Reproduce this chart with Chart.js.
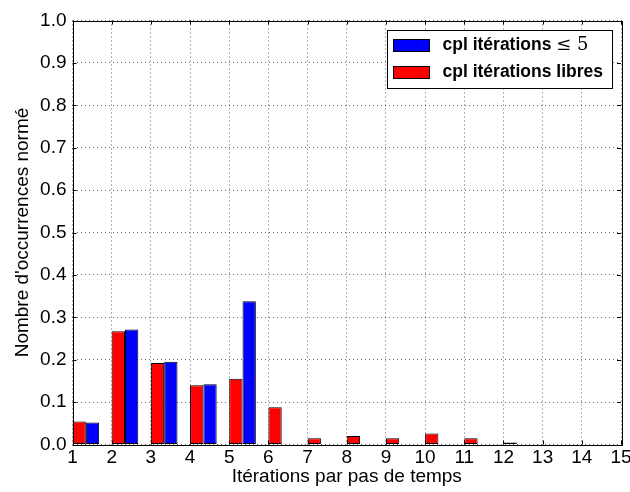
<!DOCTYPE html>
<html>
<head>
<meta charset="utf-8">
<script src="https://cdn.jsdelivr.net/npm/chart.js@4.4.1/dist/chart.umd.min.js"></script>
<style>html,body{margin:0;padding:0;background:#fff}</style>
</head>
<body>
<canvas id="myChart" width="630" height="492"></canvas>
<script>
// iterations per time step (bins start at the integer)
const iterations = [1, 2, 3, 4, 5, 6, 7, 8, 9, 10, 11, 12, 13, 14, 15];
const freeIter = [0.054, 0.267, 0.192, 0.140, 0.155, 0.088, 0.015, 0.020, 0.015, 0.026, 0.015, 0.005, 0.002, 0, 0];
const limitedIter = [0.052, 0.271, 0.195, 0.142, 0.338, 0, 0, 0, 0, 0, 0, 0, 0, 0, 0];
const seriesLabels = ["cpl itérations libres", "cpl itérations ≤ 5"];
const xTitle = "Itérations par pas de temps";
const yTitle = "Nombre d'occurrences normé";

const FONT = "'Liberation Sans', Arial, sans-serif";
const BIN = 0.68; // both bars together inside one bin

// box around the plot, inward ticks, legend inside the plot
const framePlugin = {
  id: "frame",
  afterDraw(chart) {
    const ctx = chart.ctx;
    const a = chart.chartArea;
    const xs = chart.scales.x, ys = chart.scales.y;
    ctx.save();
    ctx.strokeStyle = "#000";
    ctx.lineWidth = 1;
    ctx.beginPath();
    xs.ticks.forEach(t => {
      const px = Math.round(xs.getPixelForValue(t.value)) + 0.5;
      ctx.moveTo(px, a.bottom); ctx.lineTo(px, a.bottom - 4);
      ctx.moveTo(px, a.top); ctx.lineTo(px, a.top + 4);
    });
    ys.ticks.forEach(t => {
      const py = Math.round(ys.getPixelForValue(t.value)) + 0.5;
      ctx.moveTo(a.left, py); ctx.lineTo(a.left + 4, py);
      ctx.moveTo(a.right, py); ctx.lineTo(a.right - 4, py);
    });
    ctx.stroke();
    ctx.strokeRect(Math.round(a.left) + 0.5, Math.round(a.top) + 0.5,
      Math.round(a.right - a.left), Math.round(a.bottom - a.top));

    // legend (blue first, like the reference)
    const w = 225, h = 58;
    const lx = Math.round(a.right - 9 - w) + 0.5, ly = Math.round(a.top + 9) + 0.5;
    ctx.fillStyle = "#fff";
    ctx.fillRect(lx, ly, w, h);
    ctx.strokeRect(lx, ly, w, h);
    const items = chart.data.datasets.slice().reverse();
    items.forEach((ds, i) => {
      const ry = ly + 9 + i * 27;
      ctx.fillStyle = ds.backgroundColor;
      ctx.fillRect(lx + 6, ry, 36, 12);
      ctx.strokeRect(lx + 6, ry, 36, 12);
      ctx.fillStyle = "#000";
      ctx.textBaseline = "middle";
      ctx.textAlign = "left";
      const parts = ds.label.split("≤");
      ctx.font = "bold 17.5px " + FONT;
      let tx = lx + 55;
      ctx.fillText(parts[0], tx, ry + 6);
      if (parts.length > 1) {
        tx += ctx.measureText(parts[0]).width;
        ctx.font = "18px 'DejaVu Serif', serif";
        ctx.fillText("≤" + parts[1], tx, ry + 6);
      }
    });
    ctx.restore();
  }
};

const ctx = document.getElementById("myChart").getContext("2d");
const histChart = new Chart(ctx, {
  type: "bar",
  data: {
    datasets: [
      {
        label: seriesLabels[0],
        data: iterations.map((n, i) => ({ x: n + BIN / 2, y: freeIter[i] })),
        backgroundColor: "#ff0000",
      },
      {
        label: seriesLabels[1],
        data: iterations.map((n, i) => ({ x: n + BIN / 2, y: limitedIter[i] })),
        backgroundColor: "#0000ff",
      },
    ],
  },
  options: {
    responsive: false,
    animation: false,
    layout: { padding: { top: 20.5, right: 9, left: 0, bottom: 0 } },
    datasets: {
      bar: {
        borderColor: "#000",
        borderWidth: 1,
        borderSkipped: false,
        categoryPercentage: BIN,
        barPercentage: 1,
      },
    },
    plugins: {
      legend: { display: false },
      tooltip: { enabled: false },
    },
    scales: {
      x: {
        type: "linear",
        offset: false,
        min: 1,
        max: 15,
        ticks: { stepSize: 1, color: "#000", font: { family: FONT, size: 19 }, padding: 2 },
        grid: { color: "rgba(0,0,0,0.6)", drawTicks: false, offset: false },
        border: { display: false, dash: [1, 3] },
        title: { display: true, text: xTitle, color: "#000", font: { family: FONT, size: 19 }, padding: { top: 0, bottom: 4 } },
        afterFit(scale) {
          scale.height = 47.5;
          scale.paddingLeft = 0;
          scale.paddingRight = 0;
        },
      },
      y: {
        min: 0,
        max: 1,
        ticks: { stepSize: 0.1, color: "#000", font: { family: FONT, size: 19 }, padding: 6,
          callback: v => v.toFixed(1) },
        grid: { color: "rgba(0,0,0,0.6)", drawTicks: false },
        border: { display: false, dash: [1, 3] },
        title: { display: true, text: yTitle, color: "#000", font: { family: FONT, size: 19 }, padding: { top: 11, bottom: 0 } },
        afterFit(scale) {
          scale.width = 72.5;
          scale.paddingTop = 0;
          scale.paddingBottom = 0;
        },
      },
    },
  },
  plugins: [framePlugin],
});
</script>
</body>
</html>
